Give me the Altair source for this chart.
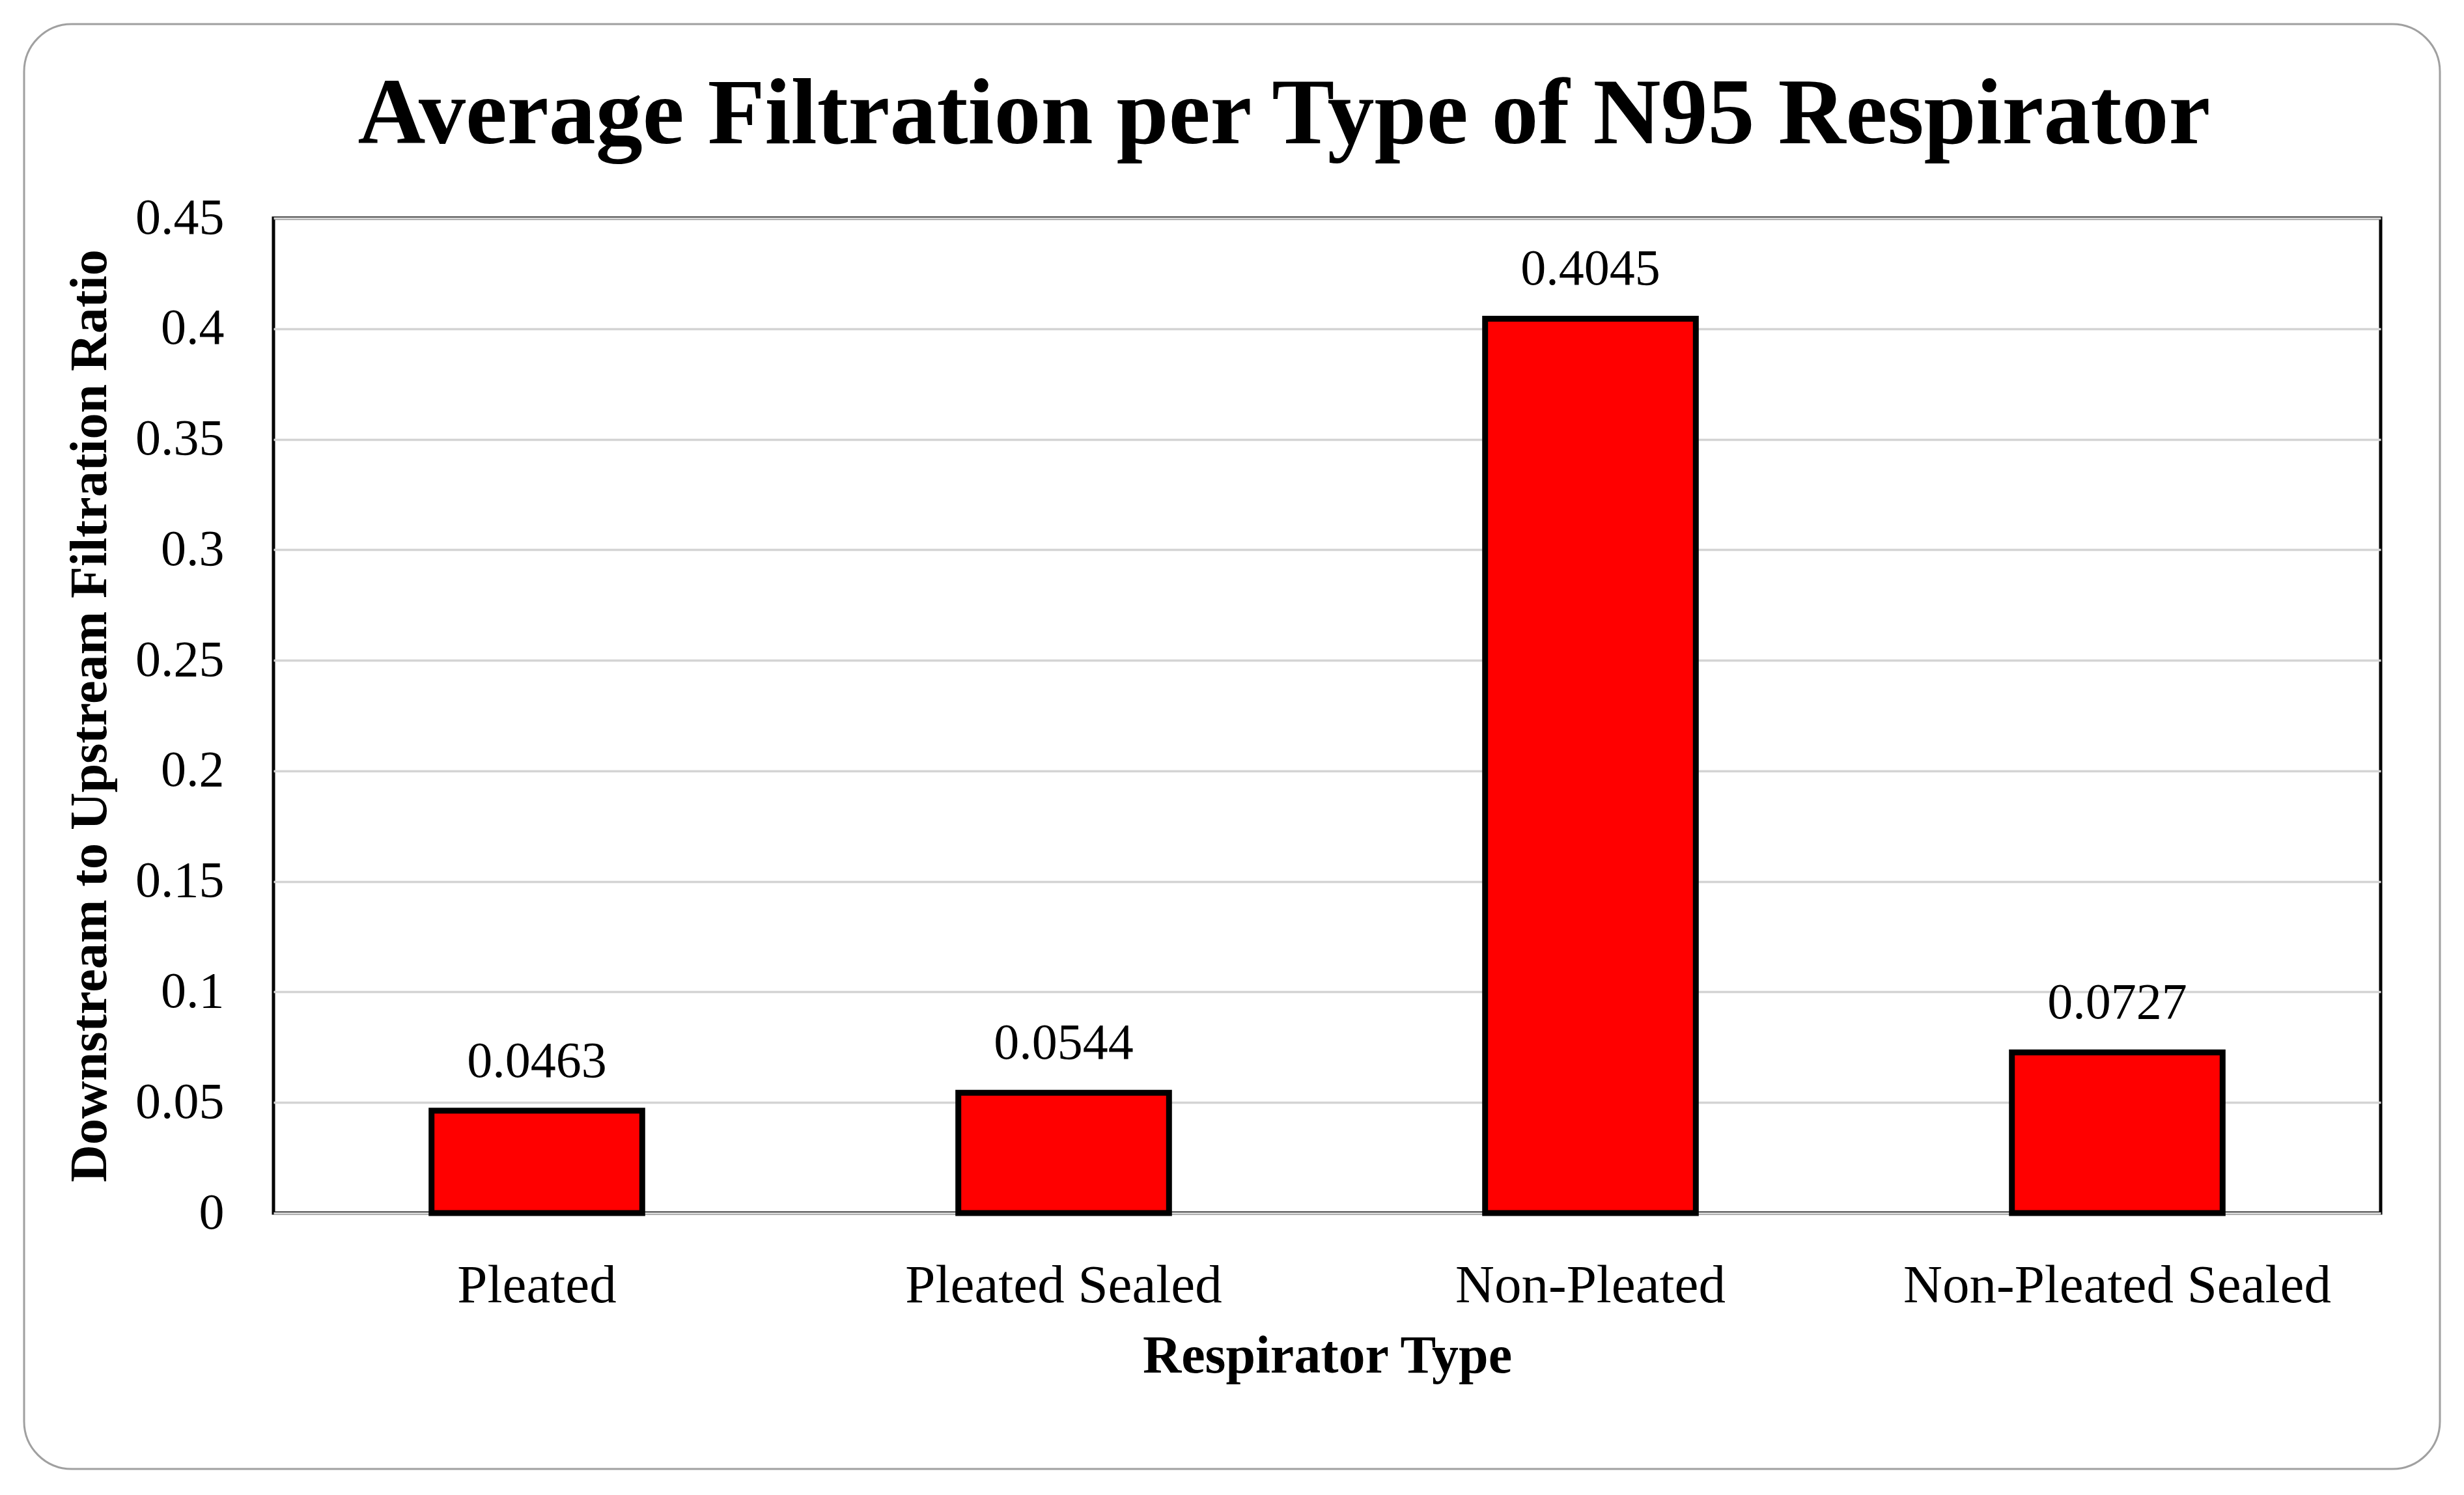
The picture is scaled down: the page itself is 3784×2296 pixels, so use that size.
import altair as alt
import pandas as pd

categories = ["Pleated", "Pleated Sealed", "Non-Pleated", "Non-Pleated Sealed"]
ratios = [0.0463, 0.0544, 0.4045, 0.0727]
y_ticks = [0, 0.05, 0.1, 0.15, 0.2, 0.25, 0.3, 0.35, 0.4, 0.45]

df = pd.DataFrame({"type": categories, "ratio": ratios})

W, H = 3236, 1528
FONT = "Liberation Serif"

x_enc = alt.X(
    "type:N",
    sort=categories,
    scale=alt.Scale(paddingInner=0.6, paddingOuter=0.3),
    axis=alt.Axis(
        title="Respirator Type",
        labelAngle=0,
        labelFont=FONT,
        labelFontSize=83,
        labelColor="black",
        labelPadding=70,
        labelLimit=0,
        ticks=False,
        tickSize=0,
        domain=False,
        grid=False,
        titleFont=FONT,
        titleFontSize=82,
        titleFontWeight="bold",
        titleColor="black",
        titleY=244,
        titleBaseline="alphabetic",
    ),
)
y_enc = alt.Y(
    "ratio:Q",
    scale=alt.Scale(domain=[0, 0.45], nice=False),
    axis=alt.Axis(
        title="Downstream to Upstream Filtration Ratio",
        values=y_ticks,
        labelExpr="format(datum.value, '~g')",
        labelFont=FONT,
        labelFontSize=78,
        labelColor="black",
        labelPadding=76,
        labelLimit=0,
        ticks=False,
        tickSize=0,
        domain=False,
        grid=True,
        gridColor="#D4D4D4",
        gridWidth=3.5,
        titleFont=FONT,
        titleFontSize=80,
        titleFontWeight="bold",
        titleColor="black",
        titleX=-282,
        titleBaseline="middle",
        titleLimit=0,
    ),
)

base = alt.Chart(df).encode(x=x_enc, y=y_enc)

bars = base.mark_bar(color="#FF0000", stroke="black", strokeWidth=9)
labels = base.mark_text(
    baseline="alphabetic", dy=-52, fontSize=78, font=FONT, color="black"
).encode(text=alt.Text("ratio:Q", format=".4f"))

border = alt.Chart(pd.DataFrame({"k": [0]})).mark_rect(
    fillOpacity=0, stroke="#A0A0A0", strokeWidth=3, cornerRadius=73
).encode(
    x=alt.value(-383), x2=alt.value(3327), y=alt.value(-298), y2=alt.value(1921)
)

chart = alt.layer(border, bars, labels).properties(
    width=W,
    height=H,
    title=alt.TitleParams(
        "Average Filtration per Type of N95 Respirator",
        font=FONT,
        fontSize=144,
        fontWeight="bold",
        color="black",
        anchor="middle",
        frame="group",
        dx=-66,
        baseline="alphabetic",
        offset=-328,
        limit=0,
    ),
    padding={"left": 412, "top": 327, "right": 120, "bottom": 425},
    autosize=alt.AutoSizeParams(type="none"),
    background="white",
).configure_view(stroke="black", strokeWidth=5)

chart.save("out.html", embed_options={"renderer": "svg", "actions": False})
